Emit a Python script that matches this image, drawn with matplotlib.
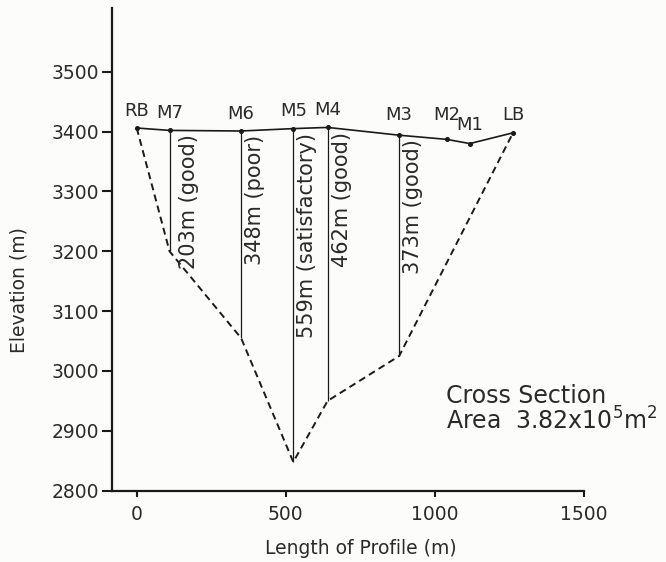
import matplotlib
matplotlib.use("Agg")
import matplotlib.pyplot as plt

# Surface points along the profile (m) and their elevations (m)
names = ["RB", "M7", "M6", "M5", "M4", "M3", "M2", "M1", "LB"]
dist = [0, 110, 350, 525, 640, 880, 1040, 1117, 1262]
surface = [3406, 3402, 3401, 3405, 3407, 3394, 3387, 3380, 3398]

# Soundings: position, surface elevation, bed elevation, label
snd_dist = [110, 350, 525, 640, 880]
snd_top = [3402, 3401, 3405, 3407, 3394]
snd_bed = [3200, 3055, 2848, 2950, 3025]
snd_text = ["203m (good)", "348m (poor)", "559m (satisfactory)",
            "462m (good)", "373m (good)"]

# Bed profile (dashed) from bank to bank
bed_dist = [0, 110, 350, 525, 640, 880, 1262]
bed_elev = [3406, 3200, 3055, 2848, 2950, 3025, 3398]

xticks = [0, 500, 1000, 1500]
yticks = [2800, 2900, 3000, 3100, 3200, 3300, 3400, 3500]

ink = "#1a1a1a"
txt = "#2a2a2a"

fig = plt.figure(figsize=(6.66, 5.62), dpi=100, facecolor="#fcfcfa")
ax = fig.add_axes([0.1686, 0.1269, 0.7083, 0.8583])
ax.set_facecolor("#fcfcfa")

ax.plot(dist, surface, color=ink, lw=1.2, marker="o", markersize=2.6)
ax.plot(bed_dist, bed_elev, color=ink, lw=1.4, linestyle=(0, (3.6, 2.3)))
ax.vlines(snd_dist, snd_bed, snd_top, color=ink, lw=0.9)

# station labels above the surface line
label_dy = [6, 6, 6, 6, 6, 8, 11, 7, 6]
for n, x, y, dy in zip(names, dist, surface, label_dy):
    ax.annotate(n, (x, y), xytext=(0, dy), textcoords="offset points",
                ha="center", va="bottom", fontsize=13, color=txt)

# depth labels along the sounding lines
for x, y, s in zip(snd_dist, snd_top, snd_text):
    dx = 6.5 if x == 110 else 3
    ax.annotate(s, (x, y), xytext=(dx, -3), textcoords="offset points",
                rotation=90, ha="left", va="top", fontsize=15, color=txt)

ax.text(1038, 2936, "Cross Section\nArea  3.82x10$^5$m$^2$", fontsize=17,
        color=txt, ha="left", va="center", linespacing=1.0)

ax.set_xlim(-82, 1500)
ax.set_ylim(2800, 3606)
ax.set_xticks(xticks)
ax.set_yticks(yticks)

for side in ["top", "right"]:
    ax.spines[side].set_visible(False)
for side in ["left", "bottom"]:
    ax.spines[side].set_linewidth(1.6)
    ax.spines[side].set_color(ink)

ax.tick_params(axis="y", length=7.2, width=1.5, pad=2.5, labelsize=13.5,
               labelcolor=txt, color=ink)
ax.tick_params(axis="x", length=4.5, width=1.5, pad=6, labelsize=13.5,
               labelcolor=txt, color=ink)

ax.set_xlabel("Length of Profile (m)", fontsize=13.5, color=txt)
ax.set_ylabel("Elevation (m)", fontsize=13.5, color=txt)
ax.xaxis.set_label_coords(0.526, -0.101)
ax.yaxis.set_label_coords(-0.178, 0.415)

fig.savefig("out.png", dpi=100, facecolor=fig.get_facecolor())
